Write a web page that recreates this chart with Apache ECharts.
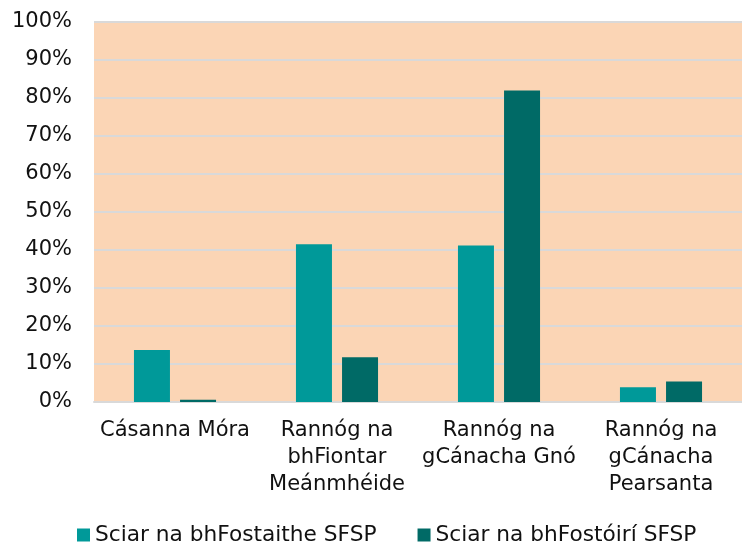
<!DOCTYPE html>
<html>
<head>
<meta charset="utf-8">
<script src="https://cdn.jsdelivr.net/npm/echarts@6/dist/echarts.min.js"></script>
<style>
  html, body { margin: 0; padding: 0; background: #fff; }
  #chart { width: 742px; height: 542px; }
</style>
</head>
<body>
<div id="chart"></div>
<script>
// categories and values (percent)
var categories = [
  "Cásanna Móra",
  "Rannóg na\nbhFiontar\nMeánmhéide",
  "Rannóg na\ngCánacha Gnó",
  "Rannóg na\ngCánacha\nPearsanta"
];
var seriesNames = ["Sciar na bhFostaithe SFSP", "Sciar na bhFostóirí SFSP"];
var employees = [13.7, 41.5, 41.2, 3.9];
var employers = [0.6, 11.8, 82.0, 5.4];

var font = "Verdana, 'DejaVu Sans', sans-serif";

var chart = echarts.init(document.getElementById("chart"));

var option = {
  animation: false,
  textStyle: { fontFamily: font },
  grid: {
    left: 94,
    right: 0,
    top: 22,
    bottom: 140,
    show: true,
    backgroundColor: "#FBD5B5",
    borderWidth: 0
  },
  legend: {
    top: 524,
    left: 77,
    padding: 0,
    itemWidth: 13,
    itemHeight: 13,
    itemGap: 41,
    icon: "rect",
    textStyle: { fontSize: 21.7, color: "#111", fontFamily: font },
    data: seriesNames
  },
  xAxis: {
    type: "category",
    data: categories,
    axisLine: { show: true, lineStyle: { color: "#D9D9D9", width: 2 } },
    axisTick: { show: false },
    axisLabel: {
      fontSize: 21,
      color: "#111",
      lineHeight: 27,
      margin: 15,
      interval: 0,
      fontFamily: font
    }
  },
  yAxis: {
    type: "value",
    min: 0,
    max: 100,
    interval: 10,
    axisLine: { show: false },
    axisTick: { show: false },
    splitLine: { lineStyle: { color: "#D9D9D9", width: 2 } },
    axisLabel: {
      fontSize: 21,
      color: "#111",
      margin: 22,
      fontFamily: font,
      formatter: "{value}%"
    }
  },
  series: [
    {
      name: seriesNames[0],
      type: "bar",
      data: employees,
      barWidth: 36,
      barGap: "28%",
      itemStyle: { color: "#009999" }
    },
    {
      name: seriesNames[1],
      type: "bar",
      data: employers,
      barWidth: 36,
      itemStyle: { color: "#006A66" }
    }
  ]
};

chart.setOption(option);
</script>
</body>
</html>
